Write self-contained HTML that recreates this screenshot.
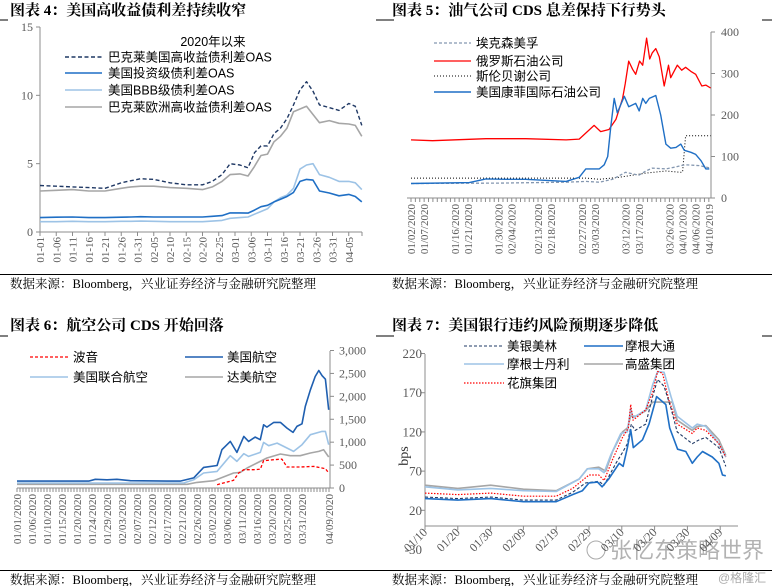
<!DOCTYPE html>
<html><head><meta charset="utf-8"><style>
html,body{margin:0;padding:0;background:#fff;}
svg{display:block;}
.t{font-family:"Liberation Serif","Noto Serif CJK SC",serif;font-weight:bold;font-size:15px;fill:#000;}
.src{font-family:"Liberation Serif","Noto Serif CJK SC",serif;font-size:12.5px;fill:#000;}
.tk{font-family:"Liberation Serif","Noto Serif CJK SC",serif;font-size:12px;fill:#595959;}
.xl{font-family:"Liberation Serif","Noto Serif CJK SC",serif;font-size:11px;fill:#595959;}
.lg{font-family:"Liberation Sans","Noto Sans CJK SC",sans-serif;font-size:12.5px;fill:#000;}
.wm{font-family:"Liberation Sans","Noto Sans CJK SC",sans-serif;font-size:22px;fill:#999;opacity:0.75;}
</style></head><body>
<svg id="s" width="772" height="586" viewBox="0 0 772 586">
<g>
<text class="t" x="10" y="15">图表 4：美国高收益债利差持续收窄</text>
<line x1="0" y1="20" x2="8" y2="20" stroke="#000"/><line x1="376" y1="20" x2="386" y2="20" stroke="#000"/>
</g>
<g>
<text class="t" x="392" y="15">图表 5：油气公司 CDS 息差保持下行势头</text>
<line x1="386" y1="20" x2="394" y2="20" stroke="#000"/><line x1="762" y1="20" x2="772" y2="20" stroke="#000"/>
</g>
<g>
<text class="t" x="10" y="330">图表 6：航空公司 CDS 开始回落</text>
<line x1="0" y1="336" x2="8" y2="336" stroke="#000"/><line x1="376" y1="336" x2="386" y2="336" stroke="#000"/>
</g>
<g>
<text class="t" x="392" y="330">图表 7：美国银行违约风险预期逐步降低</text>
<line x1="386" y1="336" x2="394" y2="336" stroke="#000"/><line x1="762" y1="336" x2="772" y2="336" stroke="#000"/>
</g>
<line x1="0" y1="274.5" x2="772" y2="274.5" stroke="#000"/>
<text class="src" x="10" y="288">数据来源：Bloomberg，兴业证券经济与金融研究院整理</text>
<text class="src" x="392" y="288">数据来源：Bloomberg，兴业证券经济与金融研究院整理</text>
<line x1="0" y1="570.5" x2="772" y2="570.5" stroke="#000"/>
<text class="src" x="10" y="584">数据来源：Bloomberg，兴业证券经济与金融研究院整理</text>
<text class="src" x="392" y="584">数据来源：Bloomberg，兴业证券经济与金融研究院整理</text>
<text class="wm" x="610" y="558">张忆东策略世界</text>
<circle cx="596" cy="550" r="9" fill="none" stroke="#aaa"/>
<text x="718" y="582" style="font-family:'Liberation Sans','Noto Sans CJK SC',sans-serif;font-size:12px;fill:#aaa">@格隆汇</text>
</svg>
<script>
// ===== Chart 4 data =====
const c4Days=[0,5,10,15,20,25,28,31,35,40,45,50,53,56,58.5,61.5,64,66,68,70,72,74,76,78,80,82,84,86,89,92,95,97,99];
const c4HyUS=[3.4,3.35,3.3,3.25,3.2,3.6,3.75,3.9,3.85,3.6,3.45,3.45,3.7,4.2,5.0,4.9,4.7,5.8,6.3,6.3,7.2,7.6,8.3,9.3,10.4,11.0,10.3,9.3,9.1,8.9,9.4,9.2,7.8];
const c4IG=[1.05,1.08,1.1,1.05,1.05,1.08,1.1,1.12,1.1,1.1,1.1,1.1,1.15,1.2,1.4,1.4,1.38,1.6,1.85,1.95,2.2,2.4,2.6,2.9,3.7,3.85,3.8,3.0,2.85,2.65,2.75,2.6,2.2];
const c4BBB=[0.75,0.75,0.78,0.75,0.75,0.78,0.78,0.8,0.78,0.75,0.75,0.75,0.8,0.85,1.0,1.05,1.1,1.3,1.5,1.7,2.2,2.5,2.7,3.2,4.6,4.9,5.0,4.2,4.0,3.7,3.7,3.6,3.1];
const c4HyEU=[3.0,3.05,3.1,3.0,3.0,3.2,3.3,3.35,3.35,3.25,3.2,3.1,3.3,3.7,4.2,4.25,4.1,4.8,5.6,5.7,6.6,7.0,7.6,8.8,9.0,9.2,8.6,8.0,8.15,7.95,7.9,7.8,7.0];
const c4Ticks=[0,5,10,15];
const c4Labels=["01-01","01-06","01-11","01-16","01-21","01-26","01-31","02-05","02-10","02-15","02-20","02-25","03-01","03-06","03-11","03-16","03-21","03-26","03-31","04-05"];
// ===== Chart 5 data =====
const c5RedIdx=[0,4.9,17.1,26.2,35.4,38.4,41.8,43.3,45.2,46.8,48.3,48.9,49.7,50.6,51.3,52.2,52.9,53.8,54.5,55.1,55.9,56.7,57.8,58.8,59.3,60.8,61.8,62.7,63.9,65,66.4,67.3,68.4];
const c5Red=[140,138,143,143,140,142,175,160,165,190,240,275,330,310,298,330,320,385,335,350,360,340,270,320,290,320,308,315,305,298,270,272,265];
const c5BlueIdx=[0,13.3,17.1,21.7,26.2,35.4,38.4,39.9,43,44.1,44.9,45.6,46.4,47.1,48.7,49.7,51.3,52.1,52.9,53.6,54.4,55.9,57,58.2,59.3,60.5,61.6,62.4,63.9,65,66.2,67.3,68.1];
const c5Blue=[35,37,46,45,45,40,50,70,70,80,100,170,240,205,245,220,228,210,240,228,240,247,200,130,120,122,130,115,110,105,90,70,70];
const c5XomIdx=[0,20.2,35.4,39.9,43,46,49,52,53.6,55.1,58.2,60.5,61.6,62.7,65.8,68.4];
const c5Xom=[35,36,38,40,38,45,62,55,65,72,70,75,78,80,78,72];
const c5SlbIdx=[0,39.9,43,47.5,50.6,53.6,58.2,61.6,62,62.7,68.4];
const c5Slb=[48,48,45,50,55,60,65,62,63,150,150];
const c5Ticks=[0,100,200,300,400];
const c5LabelIdx=[0,3,10,13,20,23,29,32,39,42,49,52,59,62,65,68];
const c5Labels=["01/02/2020","01/07/2020","01/16/2020","01/21/2020","01/30/2020","02/04/2020","02/13/2020","02/18/2020","02/27/2020","03/03/2020","03/12/2020","03/17/2020","03/26/2020","04/01/2020","04/06/2020","04/10/2019"];
// ===== Chart 6 data =====
const c6AalIdx=[0,23.9,26.1,30,33.3,37.8,50,54.4,58.9,62.2,66.7,68.3,71.1,73.3,75.6,77.2,79.4,81.1,82.2,83.3,85.6,87.8,90,92,93.3,95,96.1,97.8,99.4,100.6,101.7,102.8,103.9];
const c6Aal=[150,150,190,180,190,160,150,150,220,450,490,835,1017,777,1126,1017,1111,1053,1380,1329,1431,1431,1307,1213,1344,1400,1780,2143,2433,2564,2450,2375,1707];
const c6UalIdx=[0,55.6,58.9,62.2,66.7,71.1,73.3,75.6,77.2,81.1,82.2,83.9,86.7,88.9,92.2,95,97.8,101.7,102.8,103.9];
const c6Ual=[110,110,180,327,363,705,581,748,690,777,995,922,980,908,799,944,1162,1235,1235,944];
const c6DalIdx=[0,56.7,60,65.6,72.2,74.4,76.7,80,83.3,87.8,91.1,94.4,97.8,100.6,102.2,103.9];
const c6Dal=[80,80,123,160,327,340,436,545,654,741,705,705,763,799,835,676];
const c6BaIdx=[66.7,72.2,73.9,75.6,78.9,81.1,82.2,85.6,88.3,90,94.4,98.9,102.8,103.9];
const c6Ba=[73,167,327,400,400,410,596,617,630,458,458,472,421,327];
const c6Ticks=[0,500,1000,1500,2000,2500,3000];
const c6Labels=["01/01/2020","01/06/2020","01/10/2020","01/15/2020","01/20/2020","01/24/2020","01/29/2020","02/03/2020","02/07/2020","02/12/2020","02/17/2020","02/21/2020","02/26/2020","03/02/2020","03/06/2020","03/11/2020","03/16/2020","03/20/2020","03/25/2020","03/31/2020"];
const c6LastLabel="04/09/2020";
// ===== Chart 7 data =====
const c7JpmDay=[0,10,20,30,40,45,48,50,52.6,54,56,59.2,60.4,61.7,62.7,63.5,66.3,68.3,70.6,73.4,74.6,77,79.5,81.5,83,84.6,87.6,89.6,90.7,91.7];
const c7Jpm=[35,33,35,31,31,40,45,55,56,50,60,80,76,100,123,100,110,130,165,155,125,98,95,80,88,95,88,80,65,64];
const c7CDay=[0,10,20,30,40,45,50,53,54.6,57.2,60.2,62,62.7,63.4,67.3,69.4,70.9,72.4,74.4,76.9,81.5,83,85.6,89.6,91.7];
const c7C=[42,40,42,38,38,48,65,65,58,85,113,125,155,135,148,170,197,195,160,130,118,125,122,105,88];
const c7BacDay=[0,10,20,30,40,45,49,53,54.6,58.2,60.4,61.7,62.9,64.1,67.3,69.4,70.9,72.9,75,76.9,81.5,83.6,85.6,89.6,91.7];
const c7Bac=[37,35,37,33,33,43,55,57,52,80,95,105,130,122,130,165,187,178,150,120,105,110,113,100,76];
const c7MsDay=[0,10,20,30,40,47,49.5,53,54.6,56.6,59.7,61.7,62.7,63.4,67.3,69.4,70.9,72.9,75,76.9,81.5,83,85.6,89.6,91.7];
const c7Ms=[50,46,48,45,44,60,73,73,68,90,118,120,150,138,148,180,197,196,165,140,125,130,127,105,88];
const c7GsDay=[0,10,20,30,40,47,49.5,53,55.1,57.2,60.2,61.7,62.7,64.3,67.3,69.4,75.4,76.9,81.5,83,85.6,89.6,91.7];
const c7Gs=[52,48,52,47,45,60,73,75,70,95,120,125,140,140,147,158,158,135,122,127,128,110,90];
const c7Ticks=[-30,20,70,120,170,220];
const c7Labels=["01/10","01/20","01/30","02/09","02/19","02/29","03/10","03/20","03/30","04/09"];

const NS="http://www.w3.org/2000/svg";
const svg=document.getElementById('s');
function mk(tag,attrs,parent){const e=document.createElementNS(NS,tag);for(const k in attrs)e.setAttribute(k,attrs[k]);(parent||svg).appendChild(e);return e;}
function poly(xs,ys,fx,fy,style,name){
  const pts=xs.map((x,i)=>fx(x).toFixed(1)+','+fy(ys[i]).toFixed(1)).join(' ');
  const p=mk('polyline',Object.assign({points:pts,fill:'none','stroke-linejoin':'round'},style));
  
  
  return p;
}
function legend(x1,x2,y,tx,text,style,name){
  const g=mk('g',{});
  
  
  mk('line',Object.assign({x1:x1,x2:x2,y1:y,y2:y},style),g);
  const t=mk('text',{x:tx,y:y+4.5,class:'lg'},g);t.textContent=text;
}
function rot(x,y,text,cls,name){
  const t=mk('text',{x:x,y:y,class:cls,'text-anchor':'end',transform:'rotate(-90 '+x+' '+y+')'});
  t.textContent=text;
  
  
}
const AX='#8c8c8c';

// ===== Chart 4 =====
{
const fx=d=>40+d*3.25, fy=v=>232-v*13.667;
mk('line',{x1:40,y1:27,x2:40,y2:232,stroke:AX});
mk('line',{x1:40,y1:232,x2:362,y2:232,stroke:AX});
c4Ticks.forEach(v=>{mk('line',{x1:36,x2:40,y1:fy(v),y2:fy(v),stroke:AX});
  const t=mk('text',{x:33,y:fy(v)+4,class:'tk','text-anchor':'end'});t.textContent=v;
  
  });
c4Labels.forEach((l,i)=>{const x=fx(i*5);mk('line',{x1:x,x2:x,y1:232,y2:236,stroke:AX});rot(x+4,237,l,'xl','chart4-x-label');});
mk('line',{x1:362,x2:362,y1:232,y2:236,stroke:AX});
poly(c4Days,c4HyEU,fx,fy,{stroke:'#a6a6a6','stroke-width':1.6},'chart4-line-eu-hy');
poly(c4Days,c4BBB,fx,fy,{stroke:'#9dc3e6','stroke-width':1.6},'chart4-line-bbb');
poly(c4Days,c4IG,fx,fy,{stroke:'#1f6fc5','stroke-width':1.6},'chart4-line-ig');
poly(c4Days,c4HyUS,fx,fy,{stroke:'#1f3864','stroke-width':1.4,'stroke-dasharray':'4 2.5'},'chart4-line-us-hy');
const lt=mk('text',{x:213,y:46,class:'lg','text-anchor':'middle'});lt.textContent='2020年以来';


legend(65,102,57,108,'巴克莱美国高收益债利差OAS',{stroke:'#1f3864','stroke-width':1.4,'stroke-dasharray':'4 2.5'},'chart4-legend-us-hy');
legend(65,102,73,108,'美国投资级债利差OAS',{stroke:'#1f6fc5','stroke-width':1.6},'chart4-legend-ig');
legend(65,102,90,108,'美国BBB级债利差OAS',{stroke:'#9dc3e6','stroke-width':1.6},'chart4-legend-bbb');
legend(65,102,107,108,'巴克莱欧洲高收益债利差OAS',{stroke:'#a6a6a6','stroke-width':1.6},'chart4-legend-eu-hy');
}
// ===== Chart 5 =====
{
const fx=i=>411+i*4.38, fy=v=>198-v*0.415;
mk('line',{x1:711,y1:32,x2:711,y2:198,stroke:AX});
mk('line',{x1:407,y1:198,x2:711,y2:198,stroke:AX});
c5Ticks.forEach(v=>{mk('line',{x1:711,x2:715,y1:fy(v),y2:fy(v),stroke:AX});
  const t=mk('text',{x:721,y:fy(v)+4,class:'tk'});t.textContent=v;
  
  });
for(let i=0;i<=68;i++){mk('line',{x1:fx(i),x2:fx(i),y1:198,y2:202,stroke:AX});}
c5Labels.forEach((l,k)=>rot(fx(c5LabelIdx[k])+4,204,l,'xl','chart5-x-label'));
poly(c5SlbIdx,c5Slb,fx,fy,{stroke:'#000','stroke-width':1,'stroke-dasharray':'1 2'},'chart5-line-schlumberger');
poly(c5XomIdx,c5Xom,fx,fy,{stroke:'#8497b0','stroke-width':1.3,'stroke-dasharray':'3 2'},'chart5-line-exxon');
poly(c5RedIdx,c5Red,fx,fy,{stroke:'#ff0000','stroke-width':1.3},'chart5-line-rosneft');
poly(c5BlueIdx,c5Blue,fx,fy,{stroke:'#1f6fc5','stroke-width':1.4},'chart5-line-conoco');
legend(434,471,43,476,'埃克森美孚',{stroke:'#8497b0','stroke-width':1.3,'stroke-dasharray':'3 2'},'chart5-legend-exxon');
legend(434,471,61,476,'俄罗斯石油公司',{stroke:'#ff0000','stroke-width':1.3},'chart5-legend-rosneft');
legend(434,471,76,476,'斯伦贝谢公司',{stroke:'#000','stroke-width':1,'stroke-dasharray':'1 2'},'chart5-legend-schlumberger');
legend(434,471,92,476,'美国康菲国际石油公司',{stroke:'#1f6fc5','stroke-width':1.4},'chart5-legend-conoco');
}
// ===== Chart 6 =====
{
const fx=i=>17+i*3.0, fy=v=>488-v*0.04583;
mk('line',{x1:330,y1:351,x2:330,y2:488,stroke:AX});
mk('line',{x1:17,y1:488,x2:330,y2:488,stroke:AX});
c6Ticks.forEach(v=>{mk('line',{x1:330,x2:334,y1:fy(v),y2:fy(v),stroke:AX});
  const t=mk('text',{x:339,y:fy(v)+4,class:'tk'});t.textContent=v.toLocaleString('en-US');
  
  });
for(let i=0;i<=104;i++){mk('line',{x1:fx(i),x2:fx(i),y1:488,y2:492,stroke:AX});}
c6Labels.forEach((l,k)=>rot(fx(k*5)+4,494,l,'xl','chart6-x-label'));
rot(fx(104)+4,494,c6LastLabel,'xl','chart6-x-label');
poly(c6DalIdx,c6Dal,fx,fy,{stroke:'#a6a6a6','stroke-width':1.6},'chart6-line-delta');
poly(c6UalIdx,c6Ual,fx,fy,{stroke:'#9dc3e6','stroke-width':1.6},'chart6-line-united');
poly(c6AalIdx,c6Aal,fx,fy,{stroke:'#1f5fb0','stroke-width':1.6},'chart6-line-american');
poly(c6BaIdx,c6Ba,fx,fy,{stroke:'#ff0000','stroke-width':1.3,'stroke-dasharray':'3 2'},'chart6-line-boeing');
legend(30,68,357,73,'波音',{stroke:'#ff0000','stroke-width':1.3,'stroke-dasharray':'3 2'},'chart6-legend-boeing');
legend(30,68,377,73,'美国联合航空',{stroke:'#9dc3e6','stroke-width':1.6},'chart6-legend-united');
legend(185,223,357,227,'美国航空',{stroke:'#1f5fb0','stroke-width':1.6},'chart6-legend-american');
legend(185,223,377,227,'达美航空',{stroke:'#a6a6a6','stroke-width':1.6},'chart6-legend-delta');
}
// ===== Chart 7 =====
{
const fx=d=>425+d*3.28, fy=v=>526-v*0.784;
mk('line',{x1:425,y1:354,x2:425,y2:526,stroke:AX});
mk('line',{x1:425,y1:526,x2:738,y2:526,stroke:AX});
c7Ticks.forEach(v=>{if(v>=0)mk('line',{x1:421,x2:425,y1:fy(v),y2:fy(v),stroke:AX});
  const t=mk('text',{x:422,y:fy(v)+4.5,class:'tk','text-anchor':'end',style:'font-size:13px'});t.textContent=v;
  
  });
const bl=mk('text',{x:408,y:456,class:'tk','text-anchor':'middle',transform:'rotate(-90 408 456)',style:'font-size:14px;fill:#333'});bl.textContent='bps';


c7Labels.forEach((l,k)=>{const x=fx(k*10);mk('line',{x1:x,x2:x,y1:526,y2:530,stroke:AX});
  const t=mk('text',{x:x+3,y:533,class:'tk','text-anchor':'end',transform:'rotate(-45 '+(x+3)+' 533)'});t.textContent=l;
  
  });
poly(c7GsDay,c7Gs,fx,fy,{stroke:'#a6a6a6','stroke-width':1.6},'chart7-line-goldman');
poly(c7MsDay,c7Ms,fx,fy,{stroke:'#9dc3e6','stroke-width':1.6},'chart7-line-morgan-stanley');
poly(c7CDay,c7C,fx,fy,{stroke:'#ff0000','stroke-width':1.2,'stroke-dasharray':'1.5 1.5'},'chart7-line-citi');
poly(c7BacDay,c7Bac,fx,fy,{stroke:'#1f3864','stroke-width':1.1,'stroke-dasharray':'3 2'},'chart7-line-bofa');
poly(c7JpmDay,c7Jpm,fx,fy,{stroke:'#1f6fc5','stroke-width':1.6},'chart7-line-jpmorgan');
legend(464,504,346,507,'美银美林',{stroke:'#1f3864','stroke-width':1.1,'stroke-dasharray':'3 2'},'chart7-legend-bofa');
legend(464,504,364,507,'摩根士丹利',{stroke:'#9dc3e6','stroke-width':1.6},'chart7-legend-morgan-stanley');
legend(464,504,383,507,'花旗集团',{stroke:'#ff0000','stroke-width':1.2,'stroke-dasharray':'1.5 1.5'},'chart7-legend-citi');
legend(584,623,346,625,'摩根大通',{stroke:'#1f6fc5','stroke-width':1.6},'chart7-legend-jpmorgan');
legend(584,623,364,625,'高盛集团',{stroke:'#a6a6a6','stroke-width':1.6},'chart7-legend-goldman');
}
</script>
</body></html>
